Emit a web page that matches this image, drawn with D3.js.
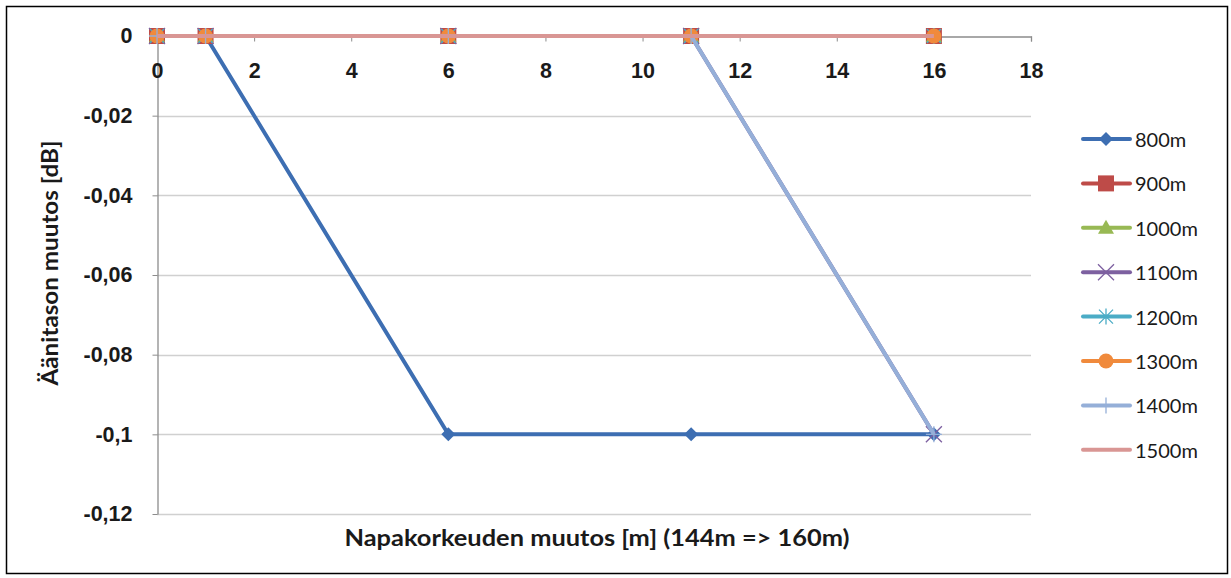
<!DOCTYPE html>
<html>
<head>
<meta charset="utf-8">
<script src="https://cdn.jsdelivr.net/npm/d3@7"></script>
<style>
  body { margin: 0; background: #fff; }
  svg { font-family: Lato, "Open Sans", sans-serif; }
</style>
</head>
<body>
<svg id="chart" width="1231" height="578"></svg>
<script>
// x positions (hub height change, m)
const xValues = [0, 1, 6, 11, 16];
const seriesNames = ["800m", "900m", "1000m", "1100m", "1200m", "1300m", "1400m", "1500m"];
const s800 = [0, 0, -0.1, -0.1, -0.1];
const s900 = [0, 0, 0, 0, 0];
const s1000 = [0, 0, 0, 0, 0];
const s1100 = [0, 0, 0, 0, -0.1];
const s1200 = [0, 0, 0, 0, 0];
const s1300 = [0, 0, 0, 0, 0];
const s1400 = [0, 0, 0, 0, -0.1];
const s1500 = [0, 0, 0, 0, 0];
const xTicks = [0, 2, 4, 6, 8, 10, 12, 14, 16, 18];
const yTicks = [0, -0.02, -0.04, -0.06, -0.08, -0.1, -0.12];

const allValues = [s800, s900, s1000, s1100, s1200, s1300, s1400, s1500];
const colors = ["#3D6EB2", "#BE4B48", "#98B954", "#7D60A0", "#4BACC6", "#F08A3C", "#95AFD8", "#D99694"];
const markers = ["diamond", "square", "triangle", "x", "star", "circle", "plus", "none"];

const series = seriesNames.map((name, i) => ({
  name, color: colors[i], marker: markers[i],
  points: xValues.map((x, j) => ({x, y: allValues[i][j]}))
}));

const svg = d3.select("#chart");

// outer frame
svg.append("rect")
  .attr("x", 6.5).attr("y", 6.5)
  .attr("width", 1221).attr("height", 567)
  .attr("fill", "none").attr("stroke", "#000").attr("stroke-width", 1.5);

const x = d3.scaleLinear().domain([0, 18]).range([157, 1031]);
const y = d3.scaleLinear().domain([-0.12, 0]).range([514, 36]);

// Finnish style: comma decimal, plain hyphen
const fmt = v => v === 0 ? "0" : String(+v.toFixed(2)).replace(".", ",");

// gridlines
svg.append("g")
  .selectAll("line")
  .data(yTicks.filter(d => d !== 0))
  .join("line")
  .attr("x1", x(0)).attr("x2", x(18))
  .attr("y1", d => Math.round(y(d)) + 0.5).attr("y2", d => Math.round(y(d)) + 0.5)
  .attr("stroke", "#d0d0d0").attr("stroke-width", 1.5);

// y axis
const yAxis = svg.append("g")
  .attr("transform", `translate(${x(0) + 0.5},0)`)
  .call(d3.axisLeft(y).tickValues(yTicks).tickSize(5).tickSizeOuter(0).tickPadding(20).tickFormat(fmt));
yAxis.select(".domain").attr("stroke", "#8c8c8c").attr("stroke-width", 1.3);
yAxis.selectAll(".tick line").attr("stroke", "#8c8c8c");
yAxis.selectAll("text")
  .attr("font-size", 21.5).attr("font-weight", "bold").attr("fill", "#1a1a1a");

// x axis at y = 0
const xAxis = svg.append("g")
  .attr("transform", `translate(0,${y(0) + 0.5})`)
  .call(d3.axisBottom(x).tickValues(xTicks).tickSize(5).tickSizeOuter(5).tickPadding(21));
xAxis.select(".domain").attr("stroke", "#8c8c8c").attr("stroke-width", 1.3);
xAxis.selectAll(".tick line").attr("stroke", "#8c8c8c");
xAxis.selectAll("text")
  .attr("font-size", 21.5).attr("font-weight", "bold").attr("fill", "#1a1a1a");

// axis titles
svg.append("text")
  .attr("x", 597).attr("y", 546)
  .attr("text-anchor", "middle")
  .attr("font-size", 22).attr("font-weight", "bold").attr("fill", "#1a1a1a")
  .attr("textLength", 505).attr("lengthAdjust", "spacingAndGlyphs")
  .text("Napakorkeuden muutos [m] (144m => 160m)");

svg.append("text")
  .attr("transform", "translate(58,263) rotate(-90)")
  .attr("text-anchor", "middle")
  .attr("font-size", 22).attr("font-weight", "bold").attr("fill", "#1a1a1a")
  .attr("textLength", 245).attr("lengthAdjust", "spacingAndGlyphs")
  .text("Äänitason muutos [dB]");

// marker drawing
function drawMarker(g, type, color) {
  if (type === "diamond") {
    g.append("path").attr("d", "M0,-7L7,0L0,7L-7,0Z").attr("fill", color);
  } else if (type === "square") {
    g.append("rect").attr("x", -8).attr("y", -8).attr("width", 16).attr("height", 16).attr("fill", color);
  } else if (type === "triangle") {
    g.append("path").attr("d", "M0,-8L8,6L-8,6Z").attr("fill", color);
  } else if (type === "x") {
    g.append("path").attr("d", "M-8,-8L8,8M8,-8L-8,8").attr("stroke", color).attr("stroke-width", 1.3);
  } else if (type === "star") {
    g.append("path").attr("d", "M-7,-7L7,7M7,-7L-7,7M0,-8L0,8").attr("stroke", color).attr("stroke-width", 1.3);
  } else if (type === "circle") {
    g.append("circle").attr("r", 7.5).attr("fill", color);
  } else if (type === "plus") {
    g.append("path").attr("d", "M-8,0L8,0M0,-8L0,8").attr("stroke", color).attr("stroke-width", 1.3);
  }
}

const line = d3.line().x(d => x(d.x)).y(d => y(d.y));

// series lines and markers
const plot = svg.append("g");
series.forEach(s => {
  const g = plot.append("g");
  g.append("path")
    .datum(s.points)
    .attr("d", line)
    .attr("fill", "none")
    .attr("stroke", s.color)
    .attr("stroke-width", 4)
    .attr("stroke-linejoin", "round");
  s.points.forEach(p => {
    const m = g.append("g").attr("transform", `translate(${x(p.x)},${y(p.y)})`);
    drawMarker(m, s.marker, s.color);
  });
});

// legend
const legend = svg.append("g");
series.forEach((s, i) => {
  const ly = 139 + i * 44.4;
  const g = legend.append("g").attr("transform", `translate(0,${ly})`);
  g.append("line")
    .attr("x1", 1083).attr("x2", 1130)
    .attr("stroke", s.color).attr("stroke-width", 4).attr("stroke-linecap", "round");
  const m = g.append("g").attr("transform", "translate(1106,0)");
  drawMarker(m, s.marker, s.color);
  g.append("text")
    .attr("x", 1135).attr("y", 8)
    .attr("font-size", 20).attr("fill", "#1a1a1a")
    .text(s.name);
});
</script>
</body>
</html>
